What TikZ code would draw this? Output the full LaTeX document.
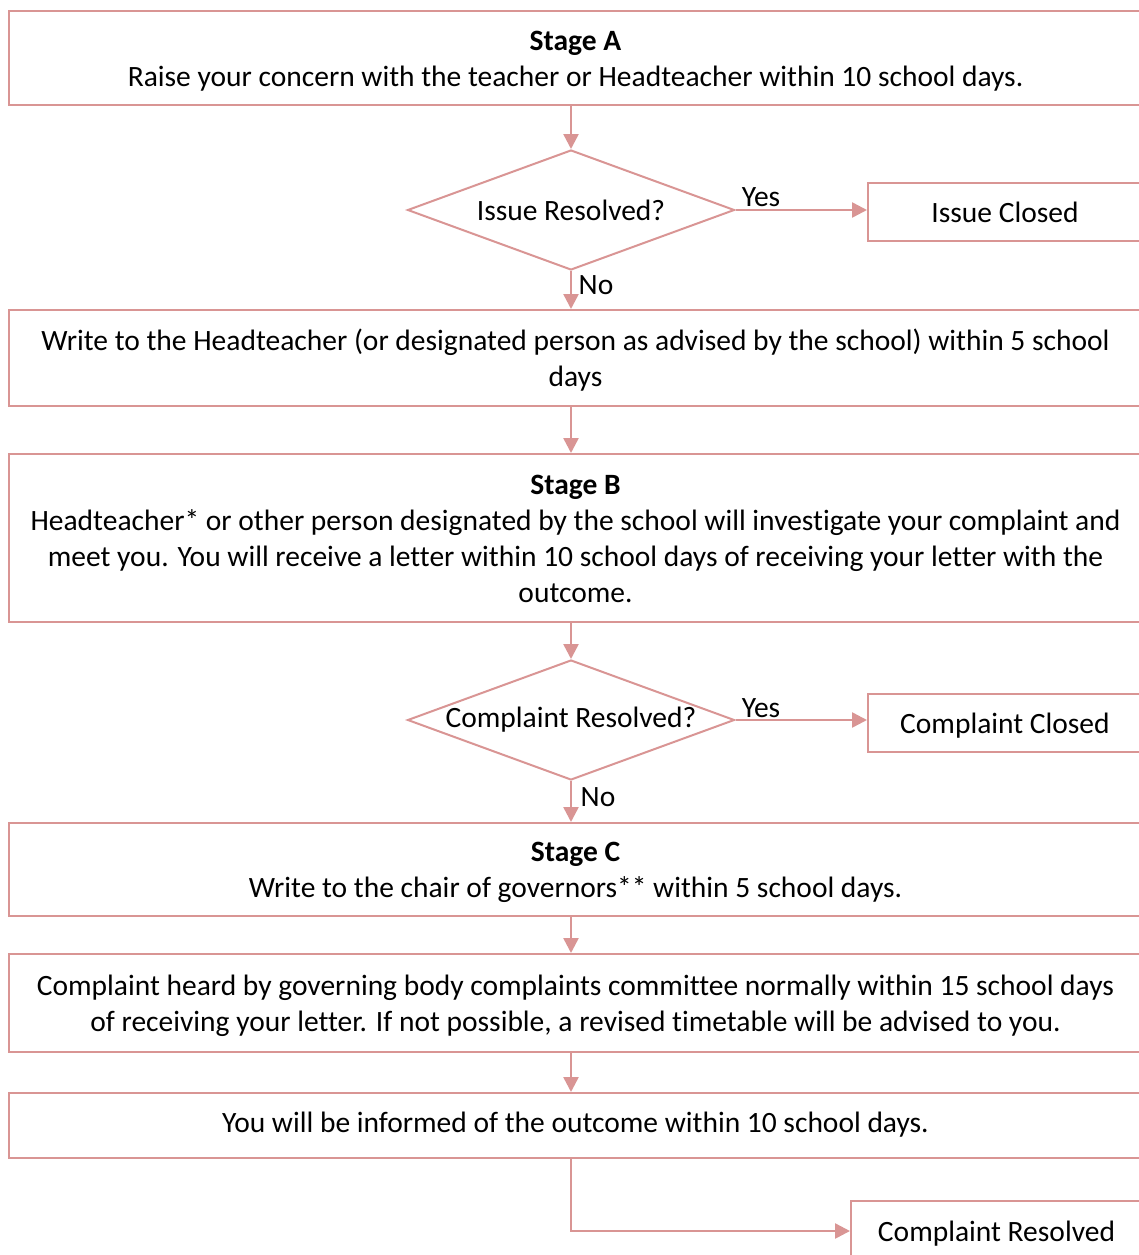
\documentclass[tikz,border=0pt]{standalone}
\usepackage{fontspec}
\setmainfont{Carlito}[Ligatures=NoCommon]
\usetikzlibrary{shapes.geometric,arrows.meta}
\definecolor{pk}{RGB}{217,149,148}
\newcommand\myTop{\rule{0pt}{27pt}}
\newcommand\myBot{\rule[-6.5pt]{0pt}{6.5pt}}
\begin{document}
\begin{tikzpicture}[x=1pt,y=-1pt,
  font=\fontsize{29.5}{36}\selectfont,
  box/.style={draw=pk,line width=2pt,rectangle,inner sep=0pt,align=center,anchor=north west},
  decision/.style={draw=pk,line width=2pt,diamond,inner sep=0pt,minimum width=327pt,minimum height=120pt},
  arr/.style={draw=pk,line width=2.5pt,-{Triangle[length=15pt,width=15pt]}},
  lbl/.style={inner sep=0pt}]
\useasboundingbox (0,0) rectangle (1139,1255);
\clip (0,0) rectangle (1139,1255);
\coordinate (axis) at (571,0);
\node[box,minimum width=1133pt,minimum height=94pt] (a) at (8,10)
  {\myTop\textbf{Stage A}\\Raise your concern with the teacher or Headteacher within 10 school days.\myBot};
\node[decision] (d1) at (571,210) {\makebox[0pt]{Issue Resolved?}};
\node[box,minimum width=274pt,minimum height=58pt] (c1) at (867,182) {\myTop Issue Closed\myBot};
\node[box,minimum width=1133pt,minimum height=96pt] (b2) at (8,309)
  {\myTop Write to the Headteacher (or designated person as advised by the school) within 5 school\\days\myBot};
\node[box,minimum width=1133pt,minimum height=168pt] (b) at (8,453)
  {\myTop\textbf{Stage B}\\Headteacher* or other person designated by the school will investigate your complaint and\\meet you. You will receive a letter within 10 school days of receiving your letter with the\\outcome.\myBot};
\node[decision] (d2) at (571,720) {\makebox[0pt]{Complaint Resolved?}};
\node[box,minimum width=274pt,minimum height=58pt] (c2) at (867,693) {\myTop Complaint Closed\myBot};
\node[box,minimum width=1133pt,minimum height=93pt] (c) at (8,822)
  {\myTop\textbf{Stage C}\\Write to the chair of governors** within 5 school days.\myBot};
\node[box,minimum width=1133pt,minimum height=98pt] (b5) at (8,953)
  {\myTop Complaint heard by governing body complaints committee normally within 15 school days\\of receiving your letter. If not possible, a revised timetable will be advised to you.\myBot};
\node[box,minimum width=1133pt,minimum height=65pt] (b6) at (8,1092)
  {You will be informed of the outcome within 10 school days.\myBot};
\node[box,minimum width=291pt,minimum height=60pt] (r) at (850,1200) {\myTop Complaint Resolved\myBot};

\draw[arr] (a.south -| axis) -- (d1.north);
\draw[arr] (d1.east) -- (d1.east -| c1.west);
\draw[arr] (d1.south) -- (b2.north -| axis);
\draw[arr] (b2.south -| axis) -- (b.north -| axis);
\draw[arr] (b.south -| axis) -- (d2.north);
\draw[arr] (d2.east) -- (d2.east -| c2.west);
\draw[arr] (d2.south) -- (c.north -| axis);
\draw[arr] (c.south -| axis) -- (b5.north -| axis);
\draw[arr] (b5.south -| axis) -- (b6.north -| axis);
\draw[arr] (b6.south -| axis) |- (r.west);

\node[lbl] (y1) at (761,197) {Yes};
\node[lbl] (n1) at (596,285) {No};
\node[lbl] (y2) at (761,708) {Yes};
\node[lbl] (n2) at (598,797) {No};
\end{tikzpicture}
\end{document}
